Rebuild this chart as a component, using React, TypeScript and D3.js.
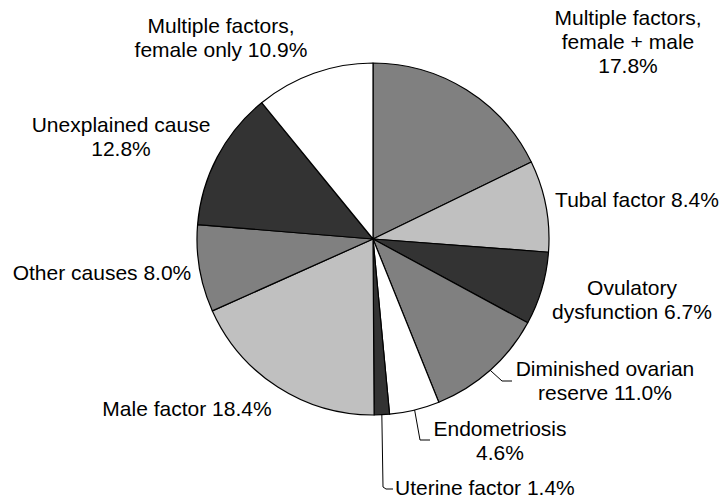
import React from "react"
import * as d3 from "d3"

// slices, clockwise from 12 o'clock
const causes = [
    "Multiple factors, female + male",
    "Tubal factor",
    "Ovulatory dysfunction",
    "Diminished ovarian reserve",
    "Endometriosis",
    "Uterine factor",
    "Male factor",
    "Other causes",
    "Unexplained cause",
    "Multiple factors, female only",
]
const percents = [17.8, 8.4, 6.7, 11.0, 4.6, 1.4, 18.4, 8.0, 12.8, 10.9]
const fills = ["#808080", "#c0c0c0", "#333333", "#808080", "#ffffff", "#333333", "#c0c0c0", "#808080", "#333333", "#ffffff"]

// label text lines, the last line carries the value
const labelLines = [
    ["Multiple factors,", "female + male", "{v}"],
    ["Tubal factor {v}"],
    ["Ovulatory", "dysfunction {v}"],
    ["Diminished ovarian", "reserve {v}"],
    ["Endometriosis", "{v}"],
    ["Uterine factor {v}"],
    ["Male factor {v}"],
    ["Other causes {v}"],
    ["Unexplained cause", "{v}"],
    ["Multiple factors,", "female only {v}"],
]

// layout only: label anchor (first baseline) and leader elbows
const labelPos: [number, number, string][] = [
    [628, 25, "middle"],
    [637, 207, "middle"],
    [632, 295, "middle"],
    [605, 376, "middle"],
    [500, 436, "middle"],
    [395, 495, "start"],
    [187, 416, "middle"],
    [102, 280, "middle"],
    [121, 132, "middle"],
    [221, 33, "middle"],
]
const leaders: ([number, number][] | null)[] = [
    null, null, null,
    [[502, 381], [512, 381]],
    [[420, 440], [430, 440]],
    [[383, 487], [386, 489], [393, 489]],
    null, null, null, null,
]

const width = 722
const height = 502
const cx = 373
const cy = 239
const radius = 176
const lineGap = 24

export default function App() {
    const pie = d3.pie<number>().sort(null).value((d) => d)
    const arcs = pie(percents)
    const arc = d3.arc<d3.PieArcDatum<number>>().innerRadius(0).outerRadius(radius)
    const line = d3.line()

    return (
        <svg width={width} height={height} style={{ position: "absolute", left: 0, top: 0, background: "#fff" }}
            fontFamily="'Liberation Sans', Arial, sans-serif" fontSize={21}>
            <g transform={`translate(${cx},${cy})`}>
                {arcs.map((a, i) => (
                    <path key={causes[i]} d={arc(a) as string} fill={fills[i]} stroke="#000" strokeWidth={1.2} strokeLinejoin="round" />
                ))}
            </g>
            {arcs.map((a, i) => {
                const pts = leaders[i]
                if (!pts) return null
                const mid = (a.startAngle + a.endAngle) / 2
                const start: [number, number] = [cx + radius * Math.sin(mid), cy - radius * Math.cos(mid)]
                return <path key={"l" + i} d={line([start, ...pts]) as string} fill="none" stroke="#000" strokeWidth={1} />
            })}
            {labelLines.map((lines, i) => {
                const [x, y, anchor] = labelPos[i]
                const v = percents[i].toFixed(1) + "%"
                return (
                    <text key={"t" + i} x={x} y={y} textAnchor={anchor} fill="#000">
                        {lines.map((ln, j) => (
                            <tspan key={j} x={x} y={y + j * lineGap}>{ln.replace("{v}", v)}</tspan>
                        ))}
                    </text>
                )
            })}
        </svg>
    )
}
